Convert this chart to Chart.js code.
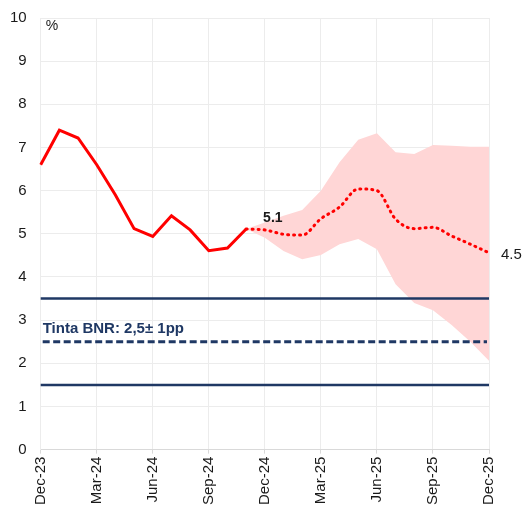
<!DOCTYPE html>
<html>
<head>
<meta charset="utf-8">
<script src="https://cdn.jsdelivr.net/npm/chart.js@4/dist/chart.umd.min.js"></script>
<style>
  html, body { margin: 0; padding: 0; background: #ffffff; }
  #wrap { width: 526px; height: 510px; }
</style>
</head>
<body>
<div id="wrap"><canvas id="c" width="526" height="510"></canvas></div>
<script>
const months = ['Dec-23','Jan-24','Feb-24','Mar-24','Apr-24','May-24','Jun-24','Jul-24','Aug-24','Sep-24','Oct-24','Nov-24',
                'Dec-24','Jan-25','Feb-25','Mar-25','Apr-25','May-25','Jun-25','Jul-25','Aug-25','Sep-25','Oct-25','Nov-25','Dec-25'];
const actual = [6.6, 7.4, 7.22, 6.6, 5.9, 5.12, 4.94, 5.42, 5.09, 4.61, 4.67, 5.11,
                null, null, null, null, null, null, null, null, null, null, null, null, null];
const forecast = [null, null, null, null, null, null, null, null, null, null, null,
                  5.11, 5.09, 4.99, 4.97, 5.35, 5.62, 6.04, 6.0, 5.34, 5.12, 5.15, 4.95, 4.76, 4.56];
const bandUpper = [null, null, null, null, null, null, null, null, null, null, null,
                   5.11, 5.26, 5.42, 5.55, 6.0, 6.66, 7.18, 7.33, 6.89, 6.85, 7.06, 7.04, 7.02, 7.02];
const bandLower = [null, null, null, null, null, null, null, null, null, null, null,
                   5.11, 4.91, 4.6, 4.41, 4.51, 4.76, 4.88, 4.64, 3.83, 3.4, 3.23, 2.89, 2.5, 2.06];
const targetCentre = 2.5;
const targetUpper = 3.5;
const targetLower = 1.5;
const targetLabel = 'Tinta BNR: 2,5± 1pp';
const lastActualLabel = '5.1';
const endForecastLabel = '4.5';
const yTicks = [0,1,2,3,4,5,6,7,8,9,10];

const NAVY = '#1f3864';
const RED = '#ff0000';
const FONT = '"Liberation Sans", Arial, sans-serif';

const overlay = {
  id: 'overlay',
  afterDatasetsDraw(chart) {
    const {ctx, chartArea, scales: {x, y}} = chart;
    ctx.save();
    ctx.strokeStyle = NAVY;
    ctx.lineWidth = 2.5;
    [targetUpper, targetLower].forEach(v => {
      const py = y.getPixelForValue(v);
      ctx.beginPath();
      ctx.moveTo(chartArea.left, py);
      ctx.lineTo(chartArea.right, py);
      ctx.stroke();
    });
    ctx.setLineDash([7, 3.5]);
    ctx.lineWidth = 3;
    const pc = y.getPixelForValue(targetCentre);
    ctx.beginPath();
    ctx.moveTo(chartArea.left + 2, pc);
    ctx.lineTo(chartArea.right - 2, pc);
    ctx.stroke();
    ctx.setLineDash([]);

    ctx.textBaseline = 'alphabetic';
    ctx.fillStyle = '#1a1a1a';
    ctx.font = '14px ' + FONT;
    ctx.textAlign = 'left';
    ctx.fillText('%', chartArea.left + 5, y.getPixelForValue(10) + 12);
    ctx.fillStyle = NAVY;
    ctx.font = 'bold 15px ' + FONT;
    ctx.fillText(targetLabel, chartArea.left + 2, y.getPixelForValue(targetCentre) - 9);
    ctx.fillStyle = '#1a1a1a';
    ctx.font = 'bold 14px ' + FONT;
    ctx.textAlign = 'center';
    ctx.fillText(lastActualLabel, x.getPixelForValue(12) + 8, y.getPixelForValue(forecast[12]) - 8);
    ctx.font = '15px ' + FONT;
    ctx.textAlign = 'left';
    ctx.fillText(endForecastLabel, x.getPixelForValue(24) + 12, y.getPixelForValue(forecast[24]) + 6);
    ctx.restore();
  }
};

new Chart(document.getElementById('c'), {
  type: 'line',
  data: {
    labels: months,
    datasets: [
      { label: 'upper', data: bandUpper, borderWidth: 0, pointRadius: 0, fill: false, tension: 0, backgroundColor: 'rgba(0,0,0,0)', borderColor: 'rgba(0,0,0,0)', order: 3 },
      { label: 'lower', data: bandLower, borderWidth: 0, pointRadius: 0, fill: '-1', tension: 0, backgroundColor: '#ffd6d6', borderColor: 'rgba(0,0,0,0)', order: 3 },
      { label: 'actual', data: actual, borderColor: RED, borderWidth: 3, pointRadius: 0, fill: false, tension: 0, borderJoinStyle: 'miter', order: 1 },
      { label: 'forecast', data: forecast, borderColor: RED, borderWidth: 3, pointRadius: 0, fill: false, tension: 0.35, cubicInterpolationMode: 'monotone', borderDash: [1, 5], borderCapStyle: 'round', order: 2 }
    ]
  },
  options: {
    responsive: false,
    animation: false,
    events: [],
    layout: { padding: { left: -4, right: 37, top: 18, bottom: 2 } },
    plugins: { legend: { display: false }, tooltip: { enabled: false } },
    scales: {
      x: {
        grid: {
          color: c => (c.index % 3 === 0 ? '#ececec' : 'rgba(0,0,0,0)'),
          tickColor: c => (c.index % 3 === 0 ? '#d9d9d9' : 'rgba(0,0,0,0)'),
          tickLength: 4,
          drawOnChartArea: true
        },
        border: { color: '#d9d9d9', width: 1 },
        ticks: {
          autoSkip: false,
          maxRotation: 90,
          minRotation: 90,
          padding: 3,
          color: '#1a1a1a',
          font: { family: FONT, size: 15 },
          callback: (v, i) => (i % 3 === 0 ? months[i] : '')
        }
      },
      y: {
        min: 0,
        max: 10,
        afterBuildTicks: axis => { axis.ticks = yTicks.map(v => ({ value: v })); },
        afterFit: axis => { axis.paddingTop = 0; },
        grid: { color: '#ececec', drawTicks: false },
        border: { display: true, color: '#ececec' },
        ticks: {
          padding: 14,
          color: '#1a1a1a',
          font: { family: FONT, size: 15 }
        }
      }
    }
  },
  plugins: [overlay]
});
</script>
</body>
</html>
